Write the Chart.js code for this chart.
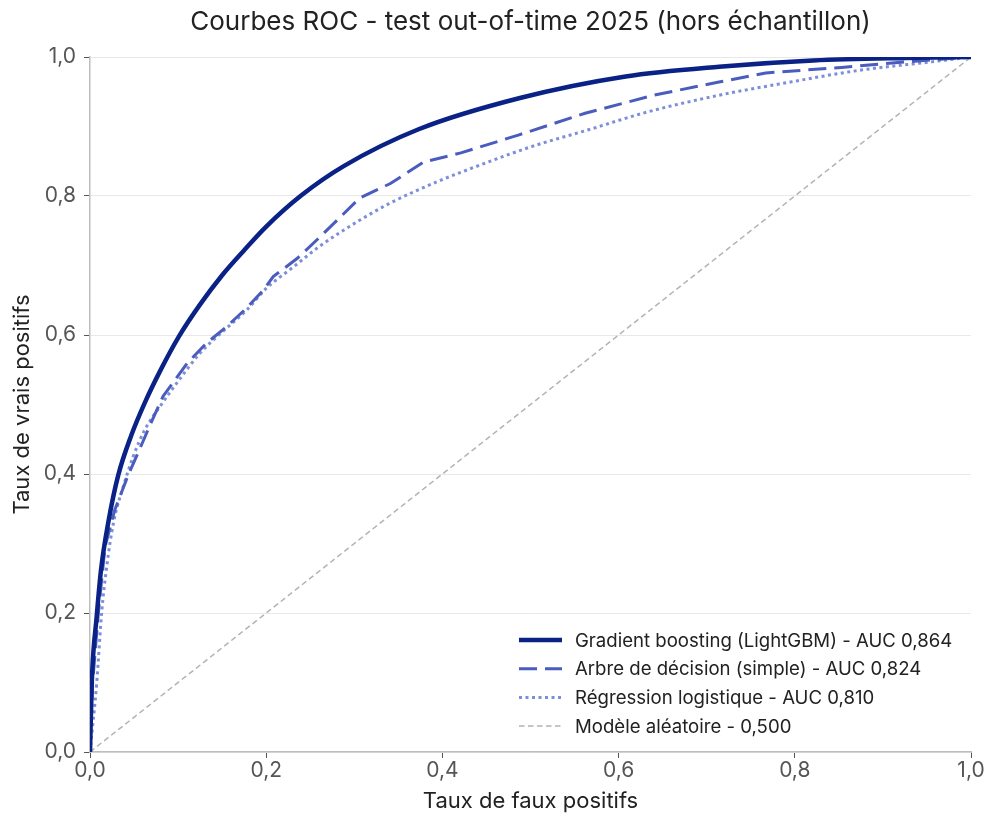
<!DOCTYPE html>
<html>
<head>
<meta charset="utf-8">
<script src="https://cdn.jsdelivr.net/npm/chart.js@4.4.1/dist/chart.umd.min.js"></script>
<style>
  html, body { margin: 0; padding: 0; background: #fff; }
  #wrap { width: 988px; height: 815px; }
</style>
</head>
<body>
<div id="wrap"><canvas id="roc"></canvas></div>
<script>
// ROC points (FPR, TPR)
const gbmFpr = [0, 0.002, 0.0076, 0.0125, 0.021, 0.032, 0.047, 0.0624, 0.0795, 0.101, 0.125, 0.15, 0.175, 0.2, 0.24, 0.288, 0.373, 0.488, 0.608, 0.714, 0.821, 0.926, 1];
const gbmTpr = [0, 0.10, 0.195, 0.262, 0.332, 0.398, 0.456, 0.503, 0.548, 0.598, 0.644, 0.686, 0.722, 0.756, 0.801, 0.843, 0.896, 0.941, 0.972, 0.986, 0.995, 0.9986, 1];

const treeFpr = [0, 0.003, 0.0095, 0.017, 0.028, 0.0435, 0.0568, 0.068, 0.083, 0.110, 0.132, 0.155, 0.178, 0.197, 0.208, 0.235, 0.261, 0.306, 0.341, 0.379, 0.421, 0.487, 0.562, 0.640, 0.714, 0.767, 0.853, 0.926, 1];
const treeTpr = [0, 0.10, 0.20, 0.295, 0.348, 0.399, 0.437, 0.470, 0.512, 0.559, 0.588, 0.612, 0.639, 0.665, 0.684, 0.710, 0.741, 0.797, 0.818, 0.849, 0.862, 0.888, 0.919, 0.945, 0.964, 0.977, 0.985, 0.993, 1];

const logFpr = [0, 0.0076, 0.0132, 0.019, 0.0265, 0.0378, 0.049, 0.062, 0.081, 0.098, 0.125, 0.148, 0.178, 0.2, 0.231, 0.261, 0.306, 0.341, 0.395, 0.448, 0.501, 0.565, 0.633, 0.714, 0.795, 0.874, 0.955, 1];
const logTpr = [0, 0.099, 0.20, 0.267, 0.329, 0.382, 0.425, 0.463, 0.500, 0.530, 0.574, 0.602, 0.636, 0.667, 0.698, 0.728, 0.765, 0.790, 0.821, 0.847, 0.871, 0.895, 0.921, 0.945, 0.964, 0.981, 0.993, 1];

const randFpr = [0, 1];
const randTpr = [0, 1];

const seriesLabels = [
  'Gradient boosting (LightGBM) - AUC 0,864',
  'Arbre de décision (simple) - AUC 0,824',
  'Régression logistique - AUC 0,810',
  'Modèle aléatoire - 0,500'
];
const chartTitle = 'Courbes ROC - test out-of-time 2025 (hors échantillon)';
const xTitle = 'Taux de faux positifs';
const yTitle = 'Taux de vrais positifs';
const tickValues = [0, 0.2, 0.4, 0.6, 0.8, 1.0];

const FONT = 'Inter, "Noto Sans", sans-serif';

function pts(xs, ys) {
  return xs.map((x, i) => ({ x: x, y: ys[i] }));
}
function fmt(v) {
  return v.toFixed(1).replace('.', ',');
}

// title centred over the plot area
const titlePlugin = {
  id: 'plotTitle',
  afterDraw(chart) {
    const { ctx, chartArea } = chart;
    ctx.save();
    ctx.font = '26px ' + FONT;
    ctx.fillStyle = '#222';
    ctx.textAlign = 'center';
    ctx.textBaseline = 'middle';
    ctx.fillText(chartTitle, (chartArea.left + chartArea.right) / 2, 22);
    ctx.restore();
  }
};

// legend box in the lower right of the plot
const legendPlugin = {
  id: 'innerLegend',
  afterDraw(chart) {
    const { ctx, chartArea } = chart;
    const x0 = chartArea.right - 452;
    const yStart = chartArea.bottom - 112;
    const rowH = 28.7;
    ctx.save();
    ctx.font = '18.6px ' + FONT;
    ctx.textBaseline = 'middle';
    chart.data.datasets.forEach((ds, i) => {
      const y = yStart + i * rowH;
      ctx.strokeStyle = ds.borderColor;
      ctx.lineWidth = ds.borderWidth;
      ctx.setLineDash(ds.borderDash || []);
      ctx.beginPath();
      ctx.moveTo(x0, y);
      ctx.lineTo(x0 + 43, y);
      ctx.stroke();
      ctx.setLineDash([]);
      ctx.fillStyle = '#222';
      ctx.fillText(ds.label, x0 + 56, y + 1);
    });
    ctx.restore();
  }
};

const ctx = document.getElementById('roc').getContext('2d');
new Chart(ctx, {
  type: 'line',
  data: {
    datasets: [
      {
        label: seriesLabels[0],
        data: pts(gbmFpr, gbmTpr),
        borderColor: '#0a2286',
        borderWidth: 4.5,
        cubicInterpolationMode: 'monotone',
        order: 0
      },
      {
        label: seriesLabels[1],
        data: pts(treeFpr, treeTpr),
        borderColor: '#4a5cbd',
        borderWidth: 3,
        borderDash: [18, 8],
        tension: 0,
        order: 1
      },
      {
        label: seriesLabels[2],
        data: pts(logFpr, logTpr),
        borderColor: '#7d8edb',
        borderWidth: 3,
        borderDash: [3, 3.5],
        cubicInterpolationMode: 'monotone',
        order: 2
      },
      {
        label: seriesLabels[3],
        data: pts(randFpr, randTpr),
        borderColor: '#b3b3b3',
        borderWidth: 1.5,
        borderDash: [5.5, 3.5],
        tension: 0,
        order: 3
      }
    ]
  },
  options: {
    responsive: true,
    maintainAspectRatio: false,
    animation: false,
    parsing: false,
    elements: {
      point: { radius: 0 },
      line: { fill: false, borderCapStyle: 'butt' }
    },
    layout: { padding: { top: 57, right: 17, left: 0, bottom: 0 } },
    plugins: {
      legend: { display: false },
      tooltip: { enabled: false }
    },
    scales: {
      x: {
        type: 'linear',
        min: 0,
        max: 1,
        afterFit(scale) { scale.height = 63; },
        afterBuildTicks(scale) { scale.ticks = tickValues.map(v => ({ value: v })); },
        border: { display: true, color: '#bdbdbd', width: 1.5 },
        grid: { drawOnChartArea: false, drawTicks: true, tickLength: 6, tickColor: '#555' },
        ticks: {
          color: '#555',
          font: { family: FONT, size: 21 },
          padding: 0,
          maxRotation: 0,
          callback: v => fmt(v)
        },
        title: {
          display: true,
          text: xTitle,
          color: '#222',
          font: { family: FONT, size: 22 },
          padding: { top: 0, bottom: 0 }
        }
      },
      y: {
        type: 'linear',
        min: 0,
        max: 1,
        afterFit(scale) { scale.width = 90; },
        afterBuildTicks(scale) { scale.ticks = tickValues.map(v => ({ value: v })); },
        border: { display: true, color: '#bdbdbd', width: 1.5 },
        grid: { drawOnChartArea: true, color: '#e8e8e8', lineWidth: 1, drawTicks: true, tickLength: 6, tickColor: '#555' },
        ticks: {
          color: '#555',
          font: { family: FONT, size: 21 },
          padding: 8,
          callback: v => fmt(v)
        },
        title: {
          display: true,
          text: yTitle,
          color: '#222',
          font: { family: FONT, size: 22 },
          padding: { top: 9, bottom: 0 }
        }
      }
    }
  },
  plugins: [titlePlugin, legendPlugin]
});
</script>
</body>
</html>
